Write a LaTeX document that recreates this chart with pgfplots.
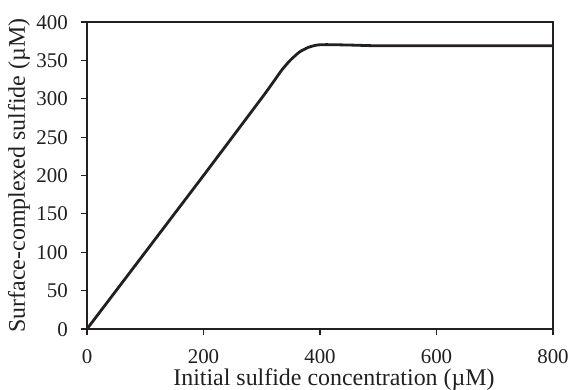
\documentclass[border=0pt]{standalone}
\usepackage{pgfplots}
\pgfplotsset{compat=1.18}
\usepackage{fontspec}
\setmainfont{Liberation Serif}
\definecolor{ink}{HTML}{231F20}
\begin{document}
\begin{tikzpicture}
\begin{axis}[
  width=466bp, height=307bp, scale only axis,
  xmin=0, xmax=800, ymin=0, ymax=400,
  xtick={0,200,...,800}, ytick={0,50,...,400},
  tick align=outside, major tick length=6bp,
  xtick pos=bottom, ytick pos=left,
  tick style={line width=1.2bp, color=ink},
  axis line style={line width=1.2bp, color=ink},
  clip=false,
  /pgf/number format/assume math mode=true,
  /pgf/number format/1000 sep={},
  ticklabel style={font=\fontsize{21}{24}\selectfont, color=ink, inner sep=0pt},
  xticklabel style={anchor=base, yshift=-28bp},
  yticklabel style={anchor=base east, xshift=-13bp, yshift=-7bp},
  xlabel={Initial sulfide concentration (µM)},
  ylabel={Surface-complexed sulfide (µM)},
  label style={font=\fontsize{24}{28}\selectfont, color=ink, inner sep=0pt},
  xlabel style={at={(axis description cs:0.53,0)}, anchor=base, yshift=-56bp},
  ylabel style={at={([xshift=-62bp]axis description cs:0,0.5)}, anchor=base},
]
\addplot[ink, line width=2.8bp, line join=round, smooth, tension=0.3] coordinates {
  (0,0) (100,100) (200,200) (300,301) (320,322) (335,338) (350,351)
  (365,361) (380,367) (395,370) (410,370.5) (430,370.3) (460,369.8)
  (500,369) (600,369) (700,369) (800,369)
};
\draw[ink, line width=2bp] (rel axis cs:0,1) -- (rel axis cs:0,0) -- (rel axis cs:1,0);
\coordinate (O) at (rel axis cs:0,0);
\end{axis}
\pgfresetboundingbox
\path ([shift={(-87bp,-61bp)}]O) rectangle ([shift={(486bp,329bp)}]O);
\end{tikzpicture}
\end{document}
